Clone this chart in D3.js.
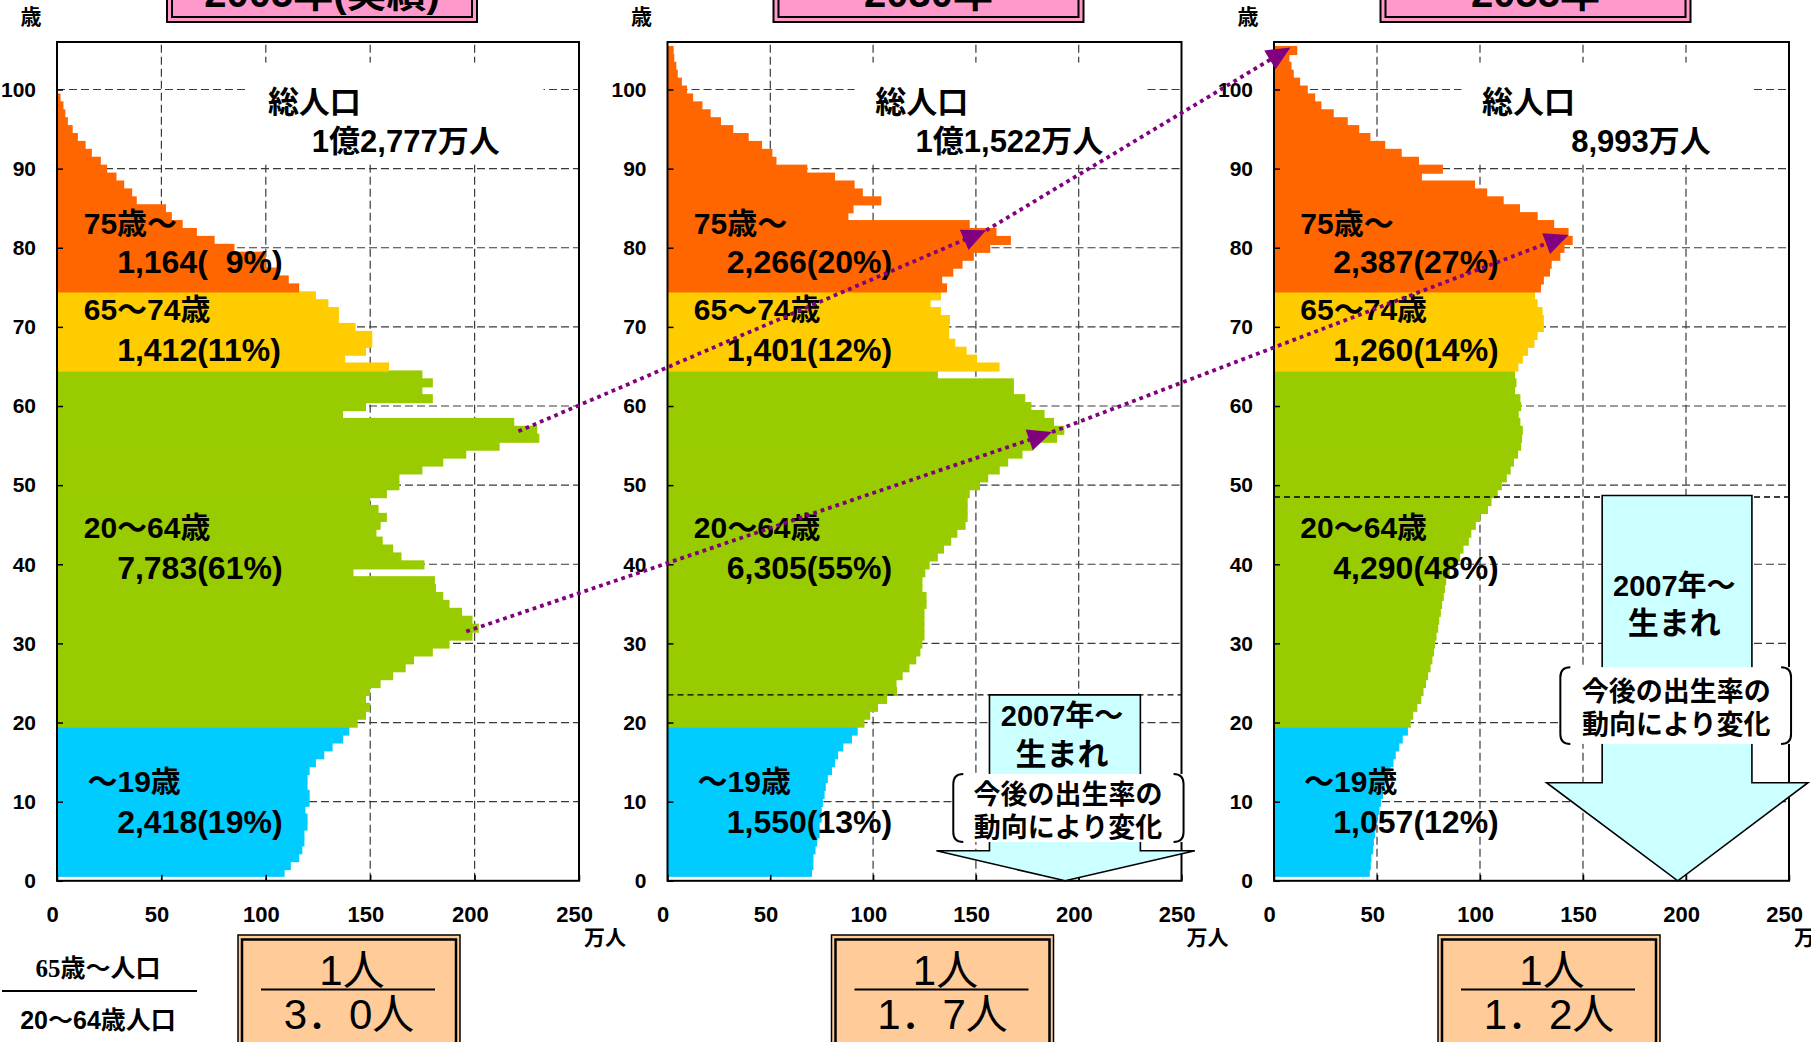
<!DOCTYPE html>
<html><head><meta charset="utf-8">
<script src="https://cdn.jsdelivr.net/npm/d3@7"></script>
<style>
html,body{margin:0;padding:0;background:#fff;overflow:hidden}
svg{display:block}
text{font-family:"Liberation Sans","Noto Sans CJK JP",sans-serif;font-weight:bold;fill:#000}
</style></head><body>
<svg id="c" width="1811" height="1042"></svg>
<script>
// ---------------- DATA ----------------
const years = ["2005年(実績)", "2030年", "2055年"];
const firstAge = 1; // youngest bar drawn (age 0 not drawn in source)
// population by single year of age (万人), ages 1..
const pop2005 = [109,112,116,117.5,118.5,118.5,120,120,119,121,
 121,120,120,121,124,128,132,137,140,144,
 148,150,148,150,155,161,167,171,180,188,
 199,202,199,194,188,185,181.5,181,142,176,
 165,161,156,153,155,158,154,150,158,164,
 164,175,185,196,212,231,230,219,137,148,
 180,175,180,175,159,138,148,151,151,143,
 135,135,130,124,116,111,106,100,100,85,
 75.5,67,60.2,55,52.2,38.2,36,32.2,28.5,24,
 21,16.7,13.7,10,7.5,5.2,4,3.1,1.7];
const pop2030 = [70.3,71,71,72,72.8,74,74,75,75,75.6,
 76.4,77,78,80,81.5,83,85.5,89.7,92.5,95.8,
 98.6,102.4,106.8,111.7,111.4,114.4,117.7,121,123,124,
 125,125,125,125,126,126,124,124,125.4,127.5,
 131.5,134.5,138,141,145,146,146,146,147,152,
 156,161.6,165.7,172.7,178,189.5,193,188,183.4,177,
 174,168.5,168.5,131.5,161.5,150.5,145.5,140,137,137,
 137.4,133,128,133,136,133.6,139,143.5,149,157,
 167,160,147,88,90.5,104,95,91,81.5,68,
 53,51,46,39.5,32,26,21,17,12.5,9.5,
 7,5,4.3,3.3,3];
const pop2055 = [46.5,47,47.3,48.1,48.5,49,49.5,50.3,51.2,51.9,
 52.9,54,55.2,56.6,58,59.1,60.8,62.5,65,66.4,
 67.6,69.6,71.5,72.6,73.8,74.8,76,76.9,77.7,78.2,
 78.9,79.7,80.2,81,81.6,82.4,83,83.6,85.3,88.3,
 90.4,92,94.6,95.8,98,100.2,103.9,105.6,108.6,110.6,
 113,114.9,116.5,118.5,120,120.4,120.8,119.6,118.8,120,
 119.6,117,117.7,117,118.6,120.8,123.3,126.4,128,131,
 131,130.4,128,126.7,129.6,131,134,134.8,139,141,
 145,143,136,128,119.4,111.5,103.5,97.6,71.8,82,
 70.4,62,54,46.8,41.4,35.8,29,23,20,16.4,
 12.7,9.6,8.5,7.5,11.3];
const populations = [pop2005, pop2030, pop2055];
const totalLabel = "総人口";
const totals = ["1億2,777万人", "1億1,522万人", "8,993万人"];
const groupNames = ["75歳～", "65～74歳", "20～64歳", "～19歳"];
const groupValues = [
  ["1,164(\u20079%)", "1,412(11%)", "7,783(61%)", "2,418(19%)"],
  ["2,266(20%)", "1,401(12%)", "6,305(55%)", "1,550(13%)"],
  ["2,387(27%)", "1,260(14%)", "4,290(48%)", "1,057(12%)"]
];
const ratioNumer = "1人";
const ratioDenoms = ["3．0人", "1．7人", "1．2人"];
const xTicks = [0, 50, 100, 150, 200, 250];
const yTicks = [0, 10, 20, 30, 40, 50, 60, 70, 80, 90, 100];
const birthCohortAge = [null, 23.5, 48.5]; // age of those born 2007 in each year
const cohortArrows = [ // [panel, value, age] -> [panel, value, age]
  {from:[0, 221, 56.8], to:[1, 155, 82.2]},
  {from:[1, 155, 82.2], to:[2, 8, 105.3]},
  {from:[0, 196, 31.5], to:[1, 187, 56.7]},
  {from:[1, 187, 56.7], to:[2, 143, 81.6]}
];

// ---------------- LAYOUT ----------------
const W = 1811, H = 1042;
const AGE_TOP = 106;
const panels = [
  {left:57, right:579, boxC:349},
  {left:667.5, right:1181.5, boxC:942.5},
  {left:1274, right:1789, boxC:1549}
];
const C = {orange:"#FF6600", yellow:"#FFCC00", green:"#99CC00", blue:"#00CCFF",
  pink:"#FF99CC", peach:"#FFCC99", cyan:"#CCFFFF", purple:"#800080", grid:"#3a3a3a"};
const y = d3.scaleLinear().domain([0, AGE_TOP]).range([880.8, 42]);
const xs = panels.map(p => d3.scaleLinear().domain([0, 250]).range([p.left, p.right]));
const groupAge = {name:[83.1, 72.2, 44.7, 12.5], value:[78.2, 67.1, 39.5, 7.4], nameX:[12.8,12.8,12.8,14.6], valueX:28.8};
const cyanArrow = [null,
  {top:23.5, l:156.6, r:230, base:3.8, hl:130.8, hr:256.5, tip:193.4,
   t1:[191.9,20.85], t2:[191.9,15.9], br:[4.9,13.5], b1:[194.8,10.8], b2:[194.8,6.7]},
  {top:48.7, l:159.3, r:232, base:12.4, hl:132.3, hr:259.2, tip:196,
   t1:[194.3,37.3], t2:[194.3,32.5], br:[17.3,27.0], b1:[195.3,23.9], b2:[195.3,19.7]}
];
function color(age){ return age <= 19 ? C.blue : age <= 64 ? C.green : age <= 74 ? C.yellow : C.orange; }

const svg = d3.select("#c");

panels.forEach((p, i) => {
  const x = xs[i];
  const g = svg.append("g");
  // gridlines
  g.selectAll(".hg").data(yTicks.filter(t => t > 0)).join("line")
    .attr("x1", x(0)).attr("x2", x(250)).attr("y1", d => y(d)).attr("y2", d => y(d))
    .attr("stroke", C.grid).attr("stroke-width", 1.2).attr("stroke-dasharray", "8,4");
  g.selectAll(".vg").data(xTicks.filter(t => t > 0 && t < 250)).join("line")
    .attr("x1", d => x(d)).attr("x2", d => x(d)).attr("y1", y(0)).attr("y2", y(AGE_TOP))
    .attr("stroke", C.grid).attr("stroke-width", 1.2).attr("stroke-dasharray", "8,4");
  // bars (each slightly overlaps the one below to avoid seams)
  const data = populations[i].map((v, k) => ({age: firstAge + k, v}));
  g.selectAll(".bar").data(data).join("rect")
    .attr("x", x(0)).attr("y", d => y(d.age + 0.5))
    .attr("width", d => x(d.v) - x(0))
    .attr("height", d => y(d.age - 0.5) - y(d.age + 0.5) + (d.age > firstAge ? 1.2 : 0))
    .attr("fill", d => color(d.age));
  // birth cohort line
  if (birthCohortAge[i] != null) {
    g.append("line").attr("x1", x(0)).attr("x2", x(250))
      .attr("y1", y(birthCohortAge[i])).attr("y2", y(birthCohortAge[i]))
      .attr("stroke", "#000").attr("stroke-width", 1.4).attr("stroke-dasharray", "6,4");
  }
  // white box behind total
  g.append("rect").attr("x", x(91)).attr("y", y(103.4)).attr("width", x(233) - x(91))
    .attr("height", y(90.8) - y(103.4)).attr("fill", "#fff");
  // frame
  g.append("rect").attr("x", x(0)).attr("y", y(AGE_TOP)).attr("width", x(250) - x(0))
    .attr("height", y(0) - y(AGE_TOP)).attr("fill", "none").attr("stroke", "#000").attr("stroke-width", 2);
  // axes
  const ay = g.append("g").attr("transform", `translate(${x(0)},0)`)
    .call(d3.axisLeft(y).tickValues(yTicks).tickSize(-6).tickPadding(21).tickFormat(d3.format("d")));
  ay.select(".domain").remove();
  ay.selectAll("line").attr("stroke", "#000").attr("stroke-width", 1.5);
  ay.selectAll("text").style("font-size", "21px").attr("fill", "#000");
  const ax = g.append("g").attr("transform", `translate(0,${y(0)})`)
    .call(d3.axisBottom(x).tickValues(xTicks).tickSize(-6).tickPadding(26).tickFormat(d3.format("d")));
  ax.select(".domain").remove();
  ax.selectAll("line").attr("stroke", "#000").attr("stroke-width", 1.5);
  ax.selectAll("text").style("font-size", "22px").attr("dx", "-0.22em").attr("fill", "#000");
  g.append("text").attr("x", x(250) + 5).attr("y", 945).style("font-size", "21px").text("万人");
  g.append("text").attr("x", x(0) - 26).attr("y", 16).attr("text-anchor", "middle")
    .attr("dominant-baseline", "central").style("font-size", "21px").text("歳");

  // cyan arrow
  const a = cyanArrow[i];
  if (a) {
    const pts = [[a.l, a.top], [a.r, a.top], [a.r, a.base], [a.hr, a.base], [a.tip, 0], [a.hl, a.base], [a.l, a.base]];
    g.append("path").attr("d", d3.line()(pts.map(q => [x(q[0]), y(q[1])])) + "Z")
      .attr("fill", C.cyan).attr("stroke", "#000").attr("stroke-width", 1.6);
    g.append("text").attr("x", x(a.t1[0])).attr("y", y(a.t1[1])).attr("text-anchor", "middle")
      .attr("dominant-baseline", "central").style("font-size", "29px").text("2007年～");
    g.append("text").attr("x", x(a.t2[0])).attr("y", y(a.t2[1])).attr("text-anchor", "middle")
      .attr("dominant-baseline", "central").style("font-size", "31px").text("生まれ");
    const bx0 = x(139), bx1 = x(251), by0 = y(a.br[1]), by1 = y(a.br[0]), r = 10;
    g.append("rect").attr("x", bx0).attr("y", by0).attr("width", bx1 - bx0).attr("height", by1 - by0).attr("fill", "#fff");
    g.append("path").attr("d", `M${bx0 + r},${by0} Q${bx0},${by0} ${bx0},${by0 + r} L${bx0},${by1 - r} Q${bx0},${by1} ${bx0 + r},${by1}`)
      .attr("fill", "none").attr("stroke", "#000").attr("stroke-width", 2);
    g.append("path").attr("d", `M${bx1 - r},${by0} Q${bx1},${by0} ${bx1},${by0 + r} L${bx1},${by1 - r} Q${bx1},${by1} ${bx1 - r},${by1}`)
      .attr("fill", "none").attr("stroke", "#000").attr("stroke-width", 2);
    g.append("text").attr("x", x(a.b1[0])).attr("y", y(a.b1[1])).attr("text-anchor", "middle")
      .attr("dominant-baseline", "central").style("font-size", "27px").text("今後の出生率の");
    g.append("text").attr("x", x(a.b2[0])).attr("y", y(a.b2[1])).attr("text-anchor", "middle")
      .attr("dominant-baseline", "central").style("font-size", "27px").text("動向により変化");
  }

  // texts
  g.append("text").attr("x", x(101)).attr("y", y(98.4)).attr("dominant-baseline", "central")
    .style("font-size", "31px").text(totalLabel);
  g.append("text").attr("x", x(212)).attr("y", y(93.4)).attr("dominant-baseline", "central")
    .attr("text-anchor", "end").style("font-size", "31px").text(totals[i]);
  groupNames.forEach((n, k) => {
    g.append("text").attr("x", x(groupAge.nameX[k])).attr("y", y(groupAge.name[k]))
      .attr("dominant-baseline", "central").style("font-size", "30px").text(n);
    g.append("text").attr("x", x(groupAge.valueX)).attr("y", y(groupAge.value[k]))
      .attr("dominant-baseline", "central").style("font-size", "32px").text(groupValues[i][k]);
  });

  // title box
  const cx = (p.left + p.right) / 2 + 4;
  svg.append("rect").attr("x", cx - 155).attr("y", -40).attr("width", 310).attr("height", 62)
    .attr("fill", C.pink).attr("stroke", "#000").attr("stroke-width", 2);
  svg.append("rect").attr("x", cx - 150).attr("y", -40).attr("width", 300).attr("height", 57)
    .attr("fill", C.pink).attr("stroke", "#000").attr("stroke-width", 2);
  svg.append("text").attr("x", cx).attr("y", 7).attr("text-anchor", "middle").style("font-size", "40px").text(years[i]);

  // ratio box
  const bc = p.boxC;
  svg.append("rect").attr("x", bc - 111).attr("y", 935).attr("width", 222).attr("height", 130)
    .attr("fill", C.peach).attr("stroke", "#000").attr("stroke-width", 1.5);
  svg.append("rect").attr("x", bc - 107).attr("y", 939.5).attr("width", 214).attr("height", 130)
    .attr("fill", C.peach).attr("stroke", "#000").attr("stroke-width", 2.5);
  svg.append("text").attr("x", bc + 3).attr("y", 985).attr("text-anchor", "middle").style("font-size", "42px")
    .style("font-weight", "normal").text(ratioNumer);
  svg.append("line").attr("x1", bc - 88).attr("x2", bc + 86).attr("y1", 989.5).attr("y2", 989.5)
    .attr("stroke", "#000").attr("stroke-width", 2);
  svg.append("text").attr("x", bc).attr("y", 1029).attr("text-anchor", "middle").style("font-size", "42px")
    .style("font-weight", "normal").text(ratioDenoms[i]);
});

// left-bottom legend of ratio
const lt = svg.append("text").attr("x", 98).attr("y", 977).attr("text-anchor", "middle").style("font-size", "25px");
lt.append("tspan").style("font-family", "'Liberation Serif',serif").text("65");
lt.append("tspan").text("歳～人口");
svg.append("line").attr("x1", 2).attr("x2", 197).attr("y1", 991).attr("y2", 991).attr("stroke", "#000").attr("stroke-width", 2);
svg.append("text").attr("x", 98).attr("y", 1029).attr("text-anchor", "middle").style("font-size", "25px").text("20～64歳人口");

// cohort arrows (purple dotted)
cohortArrows.forEach(c => {
  const x0 = xs[c.from[0]](c.from[1]), y0 = y(c.from[2]);
  const x1 = xs[c.to[0]](c.to[1]), y1 = y(c.to[2]);
  const len = Math.hypot(x1 - x0, y1 - y0), ux = (x1 - x0) / len, uy = (y1 - y0) / len;
  const L = 24, hw = 11;
  svg.append("line").attr("x1", x0).attr("y1", y0).attr("x2", x1 - ux * L * 0.6).attr("y2", y1 - uy * L * 0.6)
    .attr("stroke", C.purple).attr("stroke-width", 3.8).attr("stroke-dasharray", "3.8,4");
  const bx = x1 - ux * L, by = y1 - uy * L;
  svg.append("path").attr("d", `M${x1},${y1} L${bx - uy * hw},${by + ux * hw} L${bx + uy * hw},${by - ux * hw} Z`)
    .attr("fill", C.purple);
});
</script></body></html>
